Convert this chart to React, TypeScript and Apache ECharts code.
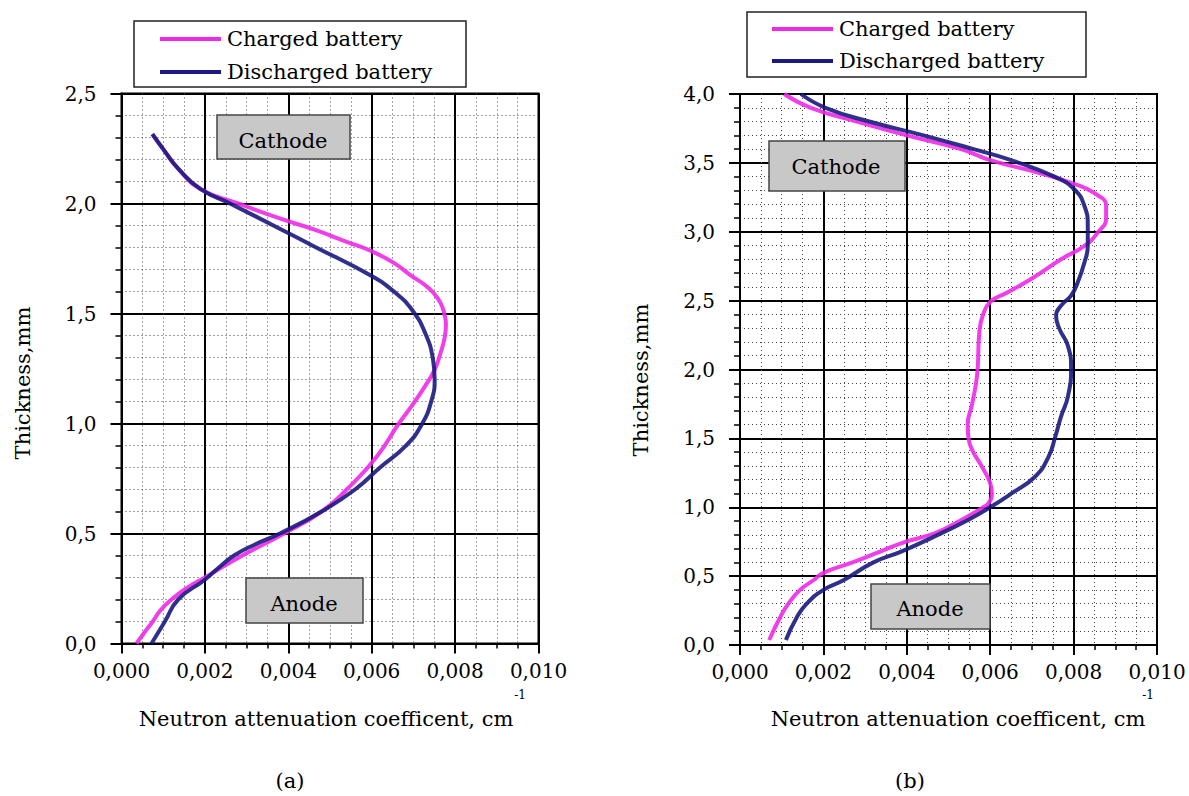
import React, { useEffect, useRef } from "react";
import * as echarts from "echarts";

// ---------- data ----------
const seriesNames = ["Charged battery", "Discharged battery"];
const seriesColors = ["#ee2ae8", "#1a1a80"];

// panel (a): [attenuation coefficient, thickness]
const chargedA: [number, number][] = [
  [0.00074, 2.315], [0.001, 2.247], [0.00137, 2.156], [0.0019, 2.065], [0.0028, 2.0],
  [0.00383, 1.93], [0.00461, 1.882], [0.0054, 1.826], [0.006, 1.783], [0.00653, 1.73],
  [0.00696, 1.67], [0.00726, 1.632], [0.00749, 1.592], [0.00765, 1.548], [0.00774, 1.5],
  [0.00778, 1.45], [0.00775, 1.39], [0.00765, 1.32], [0.00751, 1.245], [0.00728, 1.17],
  [0.00696, 1.08], [0.00665, 1.0], [0.0061, 0.844], [0.0054, 0.7], [0.0048, 0.6],
  [0.0039, 0.5], [0.0029, 0.4], [0.002, 0.3], [0.00155, 0.25], [0.0012, 0.2],
  [0.00093, 0.15], [0.00075, 0.1], [0.00055, 0.05], [0.00036, 0.0],
];
const dischargedA: [number, number][] = [
  [0.00074, 2.315], [0.001, 2.247], [0.00137, 2.156], [0.0019, 2.065], [0.0026, 2.0],
  [0.00383, 1.882], [0.00461, 1.806], [0.006, 1.67], [0.00657, 1.594], [0.00696, 1.518],
  [0.00728, 1.412], [0.00747, 1.291], [0.00751, 1.2], [0.00744, 1.109], [0.0072, 0.995],
  [0.00681, 0.897], [0.0062, 0.8], [0.0056, 0.7], [0.0048, 0.6], [0.0038, 0.5],
  [0.0032, 0.45], [0.0027, 0.4], [0.0023, 0.34], [0.002, 0.29], [0.00136, 0.2],
  [0.00104, 0.1], [0.00072, 0.0],
];

// panel (b)
const chargedB: [number, number][] = [
  [0.00106, 4.0], [0.0017, 3.9], [0.0028, 3.8], [0.004, 3.7], [0.0053, 3.6],
  [0.006, 3.52], [0.00714, 3.43], [0.00794, 3.355], [0.0085, 3.28], [0.00878, 3.187],
  [0.00878, 3.1], [0.00858, 2.994], [0.00826, 2.898], [0.0077, 2.8], [0.00698, 2.657],
  [0.00642, 2.56], [0.006, 2.49], [0.00582, 2.39], [0.00574, 2.27], [0.0057, 2.006],
  [0.00566, 1.9], [0.00556, 1.74], [0.00546, 1.6], [0.00548, 1.5], [0.00556, 1.42],
  [0.0058, 1.295], [0.006, 1.175], [0.00604, 1.1], [0.00596, 1.03], [0.0058, 0.994],
  [0.00532, 0.91], [0.00468, 0.813], [0.00388, 0.74], [0.0033, 0.67], [0.0027, 0.6],
  [0.002, 0.524], [0.00176, 0.47], [0.00144, 0.4], [0.00116, 0.3], [0.00096, 0.2],
  [0.0007, 0.036],
];
const dischargedB: [number, number][] = [
  [0.00146, 4.0], [0.00205, 3.9], [0.0031, 3.8], [0.0044, 3.7], [0.0056, 3.6],
  [0.0065, 3.52], [0.00754, 3.4], [0.00802, 3.307], [0.00826, 3.187], [0.00834, 3.042],
  [0.00834, 2.898], [0.00826, 2.777], [0.0081, 2.633], [0.00794, 2.536], [0.0077, 2.464],
  [0.00758, 2.39], [0.00766, 2.295], [0.00786, 2.175], [0.00794, 2.006], [0.00786, 1.8],
  [0.0077, 1.66], [0.00756, 1.512], [0.0074, 1.367], [0.00708, 1.223], [0.00652, 1.102],
  [0.006, 1.0], [0.00548, 0.91], [0.00468, 0.79], [0.00388, 0.68], [0.0032, 0.6],
  [0.00248, 0.47], [0.002, 0.4], [0.0016, 0.3], [0.00136, 0.2], [0.0011, 0.036],
];

const xMin = 0;
const xMax = 0.01;
const xInterval = 0.002;
const yMaxes = [2.5, 4.0];
const yInterval = 0.5;

const panelLabels = ["(a)", "(b)"];
const regionLabels = ["Cathode", "Anode"];
const xAxisTitle = "Neutron attenuation coefficent, cm";
const xAxisSup = "-1";
const yAxisTitle = "Thickness,mm";

// ---------- styling ----------
const FONT = "DejaVu Serif";

function xAxisCfg(gridIndex: number) {
  return {
    type: "value",
    gridIndex,
    min: xMin,
    max: xMax,
    interval: xInterval,
    axisLine: { show: true, onZero: false, lineStyle: { color: "#000", width: 2 } },
    axisTick: { show: true, inside: false, length: 10, lineStyle: { color: "#000", width: 2 } },
    minorTick: { show: true, splitNumber: 4, length: 5, lineStyle: { color: "#000", width: 1.5 } },
    axisLabel: {
      margin: 17,
      fontFamily: FONT,
      fontSize: 20,
      color: "#000",
      formatter: (v: number) => v.toFixed(3).replace(".", ","),
    },
    splitLine: { show: true, lineStyle: { color: "#000", width: 2 } },
    minorSplitLine: { show: true, lineStyle: { color: "#444", width: 1, type: [1, 3] } },
  };
}

function yAxisCfg(gridIndex: number, max: number) {
  return {
    type: "value",
    gridIndex,
    min: 0,
    max,
    interval: yInterval,
    axisLine: { show: true, onZero: false, lineStyle: { color: "#000", width: 2 } },
    axisTick: { show: true, inside: false, length: 11, lineStyle: { color: "#000", width: 2 } },
    minorTick: { show: true, splitNumber: 5, length: 6, lineStyle: { color: "#000", width: 1.5 } },
    axisLabel: {
      margin: 25,
      fontFamily: FONT,
      fontSize: 20,
      color: "#000",
      formatter: (v: number) => v.toFixed(1).replace(".", ","),
    },
    splitLine: { show: true, lineStyle: { color: "#000", width: 2 } },
    minorSplitLine: { show: true, lineStyle: { color: "#444", width: 1, type: [1, 3] } },
  };
}

function text(x: number, y: number, str: string, size: number, extra: any = {}) {
  return {
    type: "text",
    x,
    y,
    z: 100,
    rotation: extra.rotation || 0,
    style: {
      text: str,
      fill: "#000",
      fontSize: size,
      fontFamily: FONT,
      align: extra.align || "center",
      verticalAlign: "middle",
      textAlign: extra.align || "center",
      textVerticalAlign: "middle",
    },
  };
}

function grayBox(x: number, y: number, w: number, h: number) {
  return {
    type: "rect",
    z: 90,
    shape: { x, y, width: w, height: h },
    style: { fill: "#c8c8c8", stroke: "#444", lineWidth: 1.5 },
  };
}

function legendBlock(x: number, y: number, w: number, h: number, lineX: number, rowYs: number[]) {
  const els: any[] = [
    {
      type: "rect",
      z: 90,
      shape: { x, y, width: w, height: h },
      style: { fill: "#fff", stroke: "#222", lineWidth: 1.5 },
    },
  ];
  seriesNames.forEach((name, i) => {
    els.push({
      type: "line",
      z: 95,
      shape: { x1: lineX, y1: rowYs[i], x2: lineX + 61, y2: rowYs[i] },
      style: { stroke: seriesColors[i], lineWidth: 4 },
    });
    els.push(text(lineX + 67, rowYs[i], name, 21, { align: "left" }));
  });
  return els;
}

export default function App() {
  const ref = useRef<HTMLDivElement>(null);

  useEffect(() => {
    if (!ref.current) return;
    const chart = echarts.init(ref.current, undefined, { renderer: "svg" });

    const panels = [
      [chargedA, dischargedA],
      [chargedB, dischargedB],
    ];
    const series: any[] = [];
    panels.forEach((pair, p) => {
      pair.forEach((data, i) => {
        series.push({
          type: "line",
          name: seriesNames[i],
          xAxisIndex: p,
          yAxisIndex: p,
          data,
          smooth: 0.5,
          showSymbol: false,
          symbol: "none",
          clip: false,
          color: seriesColors[i],
          lineStyle: { color: seriesColors[i], width: 4, opacity: 0.9 },
          z: 5 + i,
        });
      });
    });

    const graphic: any[] = [
      ...legendBlock(134, 21, 332, 66, 160, [39, 72]),
      ...legendBlock(747, 12, 339, 65, 772, [29, 61]),
      grayBox(217, 115, 133, 44),
      text(283, 141, regionLabels[0], 21),
      grayBox(246, 578, 117, 45),
      text(304, 604, regionLabels[1], 21),
      grayBox(769, 141, 136, 50),
      text(836, 167, regionLabels[0], 21),
      grayBox(871, 584, 119, 45),
      text(930, 609, regionLabels[1], 21),
      text(326, 719, xAxisTitle, 21),
      text(520, 695, xAxisSup, 12),
      text(958, 719, xAxisTitle, 21),
      text(1148, 695, xAxisSup, 12),
      text(23, 383, yAxisTitle, 21, { rotation: Math.PI / 2 }),
      text(641, 380, yAxisTitle, 21, { rotation: Math.PI / 2 }),
      text(290, 781, panelLabels[0], 21),
      text(910, 781, panelLabels[1], 21),
    ];

    chart.setOption({
      animation: false,
      backgroundColor: "#fff",
      grid: [
        { left: 121.5, top: 93.5, width: 417, height: 550, show: true, borderColor: "#000", borderWidth: 2 },
        { left: 740, top: 94, width: 417, height: 551, show: true, borderColor: "#000", borderWidth: 2 },
      ],
      xAxis: [xAxisCfg(0), xAxisCfg(1)],
      yAxis: [yAxisCfg(0, yMaxes[0]), yAxisCfg(1, yMaxes[1])],
      series,
      graphic,
    });

    return () => chart.dispose();
  }, []);

  return (
    <div
      ref={ref}
      style={{ position: "absolute", left: 0, top: 0, width: 1189, height: 796, background: "#fff" }}
    />
  );
}
